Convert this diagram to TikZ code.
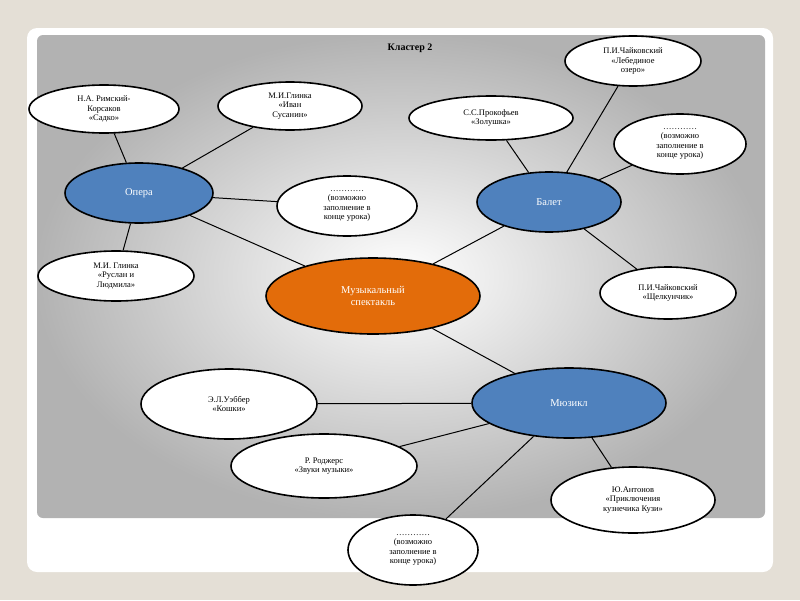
\documentclass[tikz,border=0pt]{standalone}
\usepackage{fontspec}
\setmainfont{Liberation Serif}
\usetikzlibrary{shapes.geometric}
\definecolor{bg}{HTML}{E4DFD6}
\definecolor{blu}{HTML}{4F81BD}
\definecolor{org}{HTML}{E36C0A}
\begin{document}
\begin{tikzpicture}[x=1pt,y=-1pt,
 el/.style={ellipse,draw=black,line width=1.6pt,fill=white,inner sep=0pt,align=center,font=\fontsize{8.5}{9.5}\selectfont},
 big/.style={el,fill=blu,text=white,font=\fontsize{10.5}{12.5}\selectfont},
 ln/.style={line width=1pt}]
\useasboundingbox (0,0) rectangle (800,600);
\fill[bg] (0,0) rectangle (800,600);
\fill[white,rounded corners=10pt] (27,28) rectangle (773,572);
\shade[inner color=white,outer color=gray!60,rounded corners=6pt] (37,35) rectangle (765,518);
\node[font=\bfseries\fontsize{10}{11}\selectfont] (t) at (410,48) {Кластер 2};
\node[el,minimum width=150,minimum height=48] (sad) at (104,109) {Н.А. Римский-\\Корсаков\\«Садко»};
\node[el,minimum width=144,minimum height=48] (iva) at (290,106) {М.И.Глинка\\«Иван\\Сусанин»};
\node[big,minimum width=148,minimum height=60] (op) at (139,193) {Опера};
\node[el,minimum width=140,minimum height=60] (v1) at (347,206) {…………\\(возможно\\заполнение в\\конце урока)};
\node[el,minimum width=156,minimum height=50] (rus) at (116,276) {М.И. Глинка\\«Руслан и\\Людмила»};
\node[big,fill=org,minimum width=214,minimum height=76] (ms) at (373,296) {Музыкальный\\спектакль};
\node[el,minimum width=164,minimum height=44] (pro) at (491,118) {С.С.Прокофьев\\«Золушка»};
\node[el,minimum width=136,minimum height=50] (leb) at (633,61) {П.И.Чайковский\\«Лебединое\\озеро»};
\node[el,minimum width=132,minimum height=60] (v2) at (680,144) {…………\\(возможно\\заполнение в\\конце урока)};
\node[big,minimum width=144,minimum height=60] (bal) at (549,202) {Балет};
\node[el,minimum width=136,minimum height=52] (shc) at (668,293) {П.И.Чайковский\\«Щелкунчик»};
\node[big,minimum width=194,minimum height=70] (mus) at (569,403) {Мюзикл};
\node[el,minimum width=176,minimum height=70] (kos) at (229,404) {Э.Л.Уэббер\\«Кошки»};
\node[el,minimum width=186,minimum height=64] (rod) at (324,466) {Р. Роджерс\\«Звуки музыки»};
\node[el,minimum width=164,minimum height=66] (ant) at (633,500) {Ю.Антонов\\«Приключения\\кузнечика Кузи»};
\node[el,minimum width=130,minimum height=70] (v3) at (413,550) {…………\\(возможно\\заполнение в\\конце урока)};
\draw[ln] (sad) -- (op); \draw[ln] (iva) -- (op); \draw[ln] (op) -- (v1); \draw[ln] (op) -- (rus); \draw[ln] (op) -- (ms);
\draw[ln] (ms) -- (bal); \draw[ln] (bal) -- (pro); \draw[ln] (bal) -- (leb); \draw[ln] (bal) -- (v2); \draw[ln] (bal) -- (shc);
\draw[ln] (ms) -- (mus); \draw[ln] (mus) -- (kos); \draw[ln] (mus) -- (rod); \draw[ln] (mus) -- (ant); \draw[ln] (mus) -- (v3);
\end{tikzpicture}
\end{document}
